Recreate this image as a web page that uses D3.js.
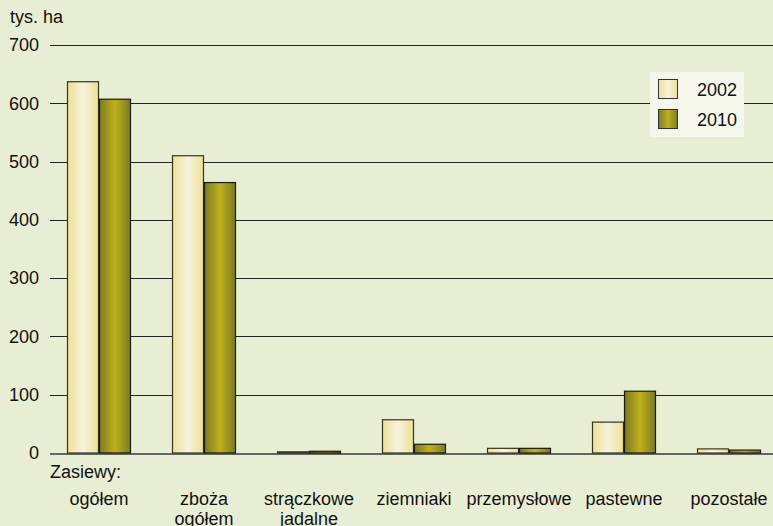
<!DOCTYPE html>
<html><head><meta charset="utf-8">
<script src="https://cdn.jsdelivr.net/npm/d3@7"></script>
<style>html,body{margin:0;padding:0;background:#e8eed3;}svg{display:block;font-family:"Liberation Sans",Arial,sans-serif;}</style>
</head><body>
<script>
const categories = [["ogółem"],["zboża","ogółem"],["strączkowe","jadalne"],["ziemniaki"],["przemysłowe"],["pastewne"],["pozostałe"]];
const series = ["2002","2010"];
const values2002 = [637, 510, 2, 57, 8, 53, 7];
const values2010 = [607, 464, 3, 15, 8, 106, 5];
const yTicks = [0,100,200,300,400,500,600,700];

const W=773,H=526, FS=18;
const svg=d3.select("body").append("svg").attr("width",W).attr("height",H);
svg.append("rect").attr("width",W).attr("height",H).attr("fill","#e8eed3");
const defs=svg.append("defs");
function grad(id,edge,mid){
  const g=defs.append("linearGradient").attr("id",id).attr("x1","0%").attr("x2","100%").attr("y1","0%").attr("y2","0%");
  g.append("stop").attr("offset","0%").attr("stop-color",edge);
  g.append("stop").attr("offset","50%").attr("stop-color",mid);
  g.append("stop").attr("offset","100%").attr("stop-color",edge);
}
grad("g2002","#ece096","#f7f3dd");
grad("g2010","#7b7b22","#c0b01e");

const y=d3.scaleLinear().domain([0,700]).range([453,45]);
const x=d3.scaleBand().domain(d3.range(categories.length)).range([46.5,781.5]).paddingInner(0).paddingOuter(0);
const xs=d3.scaleBand().domain(series).range([0,64]);
const gx0 = d=>x(d)+(x.bandwidth()-64)/2;

// grid
const yAxis=d3.axisLeft(y).tickValues(yTicks).tickSize(-(W-50)).tickPadding(11);
const ga=svg.append("g").attr("transform","translate(50,0)").call(yAxis);
ga.select(".domain").remove();
ga.selectAll(".tick line").attr("stroke","#222").attr("stroke-width",1).attr("shape-rendering","crispEdges");
ga.selectAll(".tick text").attr("font-size",FS).attr("fill","#111").attr("font-family","Liberation Sans, Arial, sans-serif");
ga.select(".tick:first-of-type line").attr("stroke","#666").attr("stroke-width",2);

svg.append("text").attr("x",10).attr("y",23).attr("font-size",FS).attr("fill","#111").text("tys. ha");

const data=[values2002,values2010];
series.forEach((s,si)=>{
  svg.append("g").selectAll("rect").data(data[si]).join("rect")
    .attr("x",(d,i)=>gx0(i)+xs(s)+0.5)
    .attr("y",d=>y(d))
    .attr("width",xs.bandwidth()-1)
    .attr("height",d=>y(0)-y(d))
    .attr("fill",`url(#g${s})`)
    .attr("stroke",si===0?"#333322":"#1a1a10")
    .attr("stroke-width",1.2);
});

// category labels
svg.append("text").attr("x",50).attr("y",478).attr("font-size",FS).attr("fill","#111").text("Zasiewy:");
categories.forEach((c,i)=>{
  const t=svg.append("text").attr("text-anchor","middle").attr("font-size",FS).attr("fill","#111")
    .attr("x",x(i)+x.bandwidth()/2).attr("y",505);
  c.forEach((line,j)=>t.append("tspan").attr("x",x(i)+x.bandwidth()/2).attr("dy",j?20:0).text(line));
});

// legend
const lg=svg.append("g").attr("transform","translate(650,72)");
lg.append("rect").attr("width",94).attr("height",65).attr("fill","#f6f7ec");
series.forEach((s,i)=>{
  lg.append("rect").attr("x",8.5).attr("y",7.5+i*30).attr("width",19).attr("height",19)
    .attr("fill",`url(#g${s})`).attr("stroke","#333").attr("stroke-width",1);
  lg.append("text").attr("x",47).attr("y",24+i*30).attr("font-size",FS).attr("fill","#111").text(s);
});
</script>
</body></html>
